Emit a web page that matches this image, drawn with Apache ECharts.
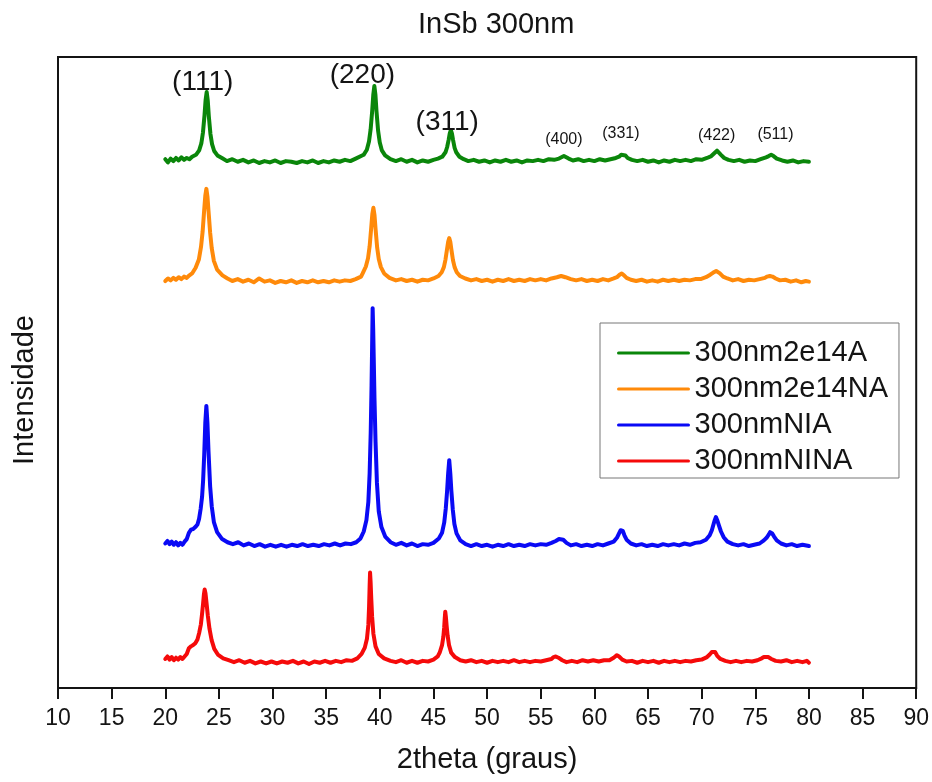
<!DOCTYPE html>
<html>
<head>
<meta charset="utf-8">
<script src="https://cdn.jsdelivr.net/npm/echarts@6/dist/echarts.min.js"></script>
<style>
html,body{margin:0;padding:0;background:#fff;}
#chart{width:932px;height:782px;}
</style>
</head>
<body>
<div id="chart"></div>
<script>
// ---- Data (2theta in degrees, intensity in arbitrary offset units) ----
const seriesNames = ['300nm2e14A', '300nm2e14NA', '300nmNIA', '300nmNINA'];
const seriesColors = ['#0a860a', '#ff8a0a', '#0a0af5', '#f50a0a'];

const s300nm2e14A = [
[20.0,83.8],[20.25,83.3],[20.5,83.9],[20.75,83.5],[21.0,84.0],[21.25,83.6],[21.5,84.1],[21.75,83.7],[22.0,84.0],[22.25,83.8],[22.5,84.2],[22.86,84.5],
[23.16,85.2],[23.36,86.3],[23.51,88.0],[23.66,90.8],[23.76,93.2],[23.86,94.45],[23.96,93.1],[24.06,90.6],[24.21,87.8],[24.36,86.2],[24.56,85.1],[24.86,84.4],[25.36,83.9],
[25.75,83.5],[26.25,83.8],[26.75,83.4],[27.25,83.7],[27.75,83.3],[28.25,83.6],[28.75,83.2],[29.25,83.5],[29.75,83.3],[30.25,83.6],[30.75,83.2],[31.25,83.5],[31.75,83.4],
[32.25,83.2],[32.75,83.5],[33.25,83.3],[33.75,83.6],[34.25,83.2],[34.75,83.5],[35.25,83.3],[35.75,83.6],[36.25,83.4],[36.75,83.7],[37.25,83.5],[37.75,83.9],
[38.49,84.5],[38.79,85.3],[38.99,86.6],[39.14,88.5],[39.29,91.5],[39.39,94.0],[39.49,95.4],[39.59,94.0],[39.69,91.4],[39.84,88.3],[39.99,86.5],[40.19,85.2],[40.49,84.4],[40.99,83.8],
[41.5,83.5],[42.0,83.8],[42.5,83.4],[43.0,83.7],[43.5,83.3],[44.0,83.6],[44.5,83.4],[45.0,83.7],
[45.42,83.9],[45.82,84.2],[46.12,84.9],[46.27,85.7],[46.42,86.9],[46.52,87.9],[46.62,88.4],[46.72,87.9],[46.82,86.9],[46.97,85.6],[47.12,84.9],[47.42,84.2],[47.82,83.8],
[48.25,83.5],[48.75,83.7],[49.25,83.4],[49.75,83.6],[50.25,83.3],[50.75,83.6],[51.25,83.4],[51.75,83.7],[52.25,83.4],[52.75,83.6],[53.25,83.3],[53.75,83.6],[54.25,83.5],[54.75,83.7],[55.25,83.5],[55.75,83.8],[56.25,83.7],
[56.7,83.9],[57.16,84.3],[57.6,83.9],[58.0,83.6],
[58.5,83.8],[59.0,83.5],[59.5,83.7],[60.0,83.5],[60.5,83.8],[61.0,83.6],[61.5,83.8],[62.0,84.0],
[62.3,84.2],[62.5,84.5],[62.68,84.7],[62.9,84.4],[63.1,84.0],[63.5,83.7],
[64.0,83.5],[64.5,83.7],[65.0,83.4],[65.5,83.6],[66.0,83.3],[66.5,83.6],[67.0,83.4],[67.5,83.7],[68.0,83.5],[68.5,83.7],[69.0,83.5],[69.5,83.8],[70.0,83.7],[70.5,84.0],
[70.9,84.3],[71.15,84.7],[71.3,85.0],[71.43,85.15],[71.6,84.9],[71.8,84.5],[72.1,84.0],[72.5,83.7],
[73.0,83.5],[73.5,83.7],[74.0,83.4],[74.5,83.6],[75.0,83.5],[75.5,83.8],[76.0,84.1],
[76.25,84.3],[76.48,84.5],[76.7,84.3],[77.0,83.9],[77.5,83.6],
[78.0,83.4],[78.5,83.6],[79.0,83.3],[79.5,83.5],[80.0,83.4]
];

const s300nm2e14NA = [
[20.0,64.5],[20.25,64.9],[20.5,64.6],[20.75,65.0],[21.0,64.7],[21.25,65.1],[21.5,64.8],[21.75,65.2],[22.0,65.0],[22.25,65.4],[22.5,65.7],[22.83,66.6],
[23.13,67.9],[23.33,69.9],[23.48,72.3],[23.63,75.8],[23.73,78.0],[23.83,79.1],[23.93,77.9],[24.03,75.6],[24.18,72.2],[24.33,69.7],[24.53,67.7],[24.83,66.3],[25.33,65.4],[25.8,64.9],
[26.25,64.5],[26.75,64.8],[27.25,64.4],[27.75,64.7],[28.25,64.3],[28.75,64.9],[29.25,64.4],[29.75,64.6],[30.25,64.2],[30.75,64.5],[31.25,64.3],[31.75,64.6],[32.25,64.2],[32.75,64.5],
[33.25,64.3],[33.75,64.6],[34.25,64.3],[34.75,64.5],[35.25,64.3],[35.75,64.6],[36.25,64.4],[36.75,64.6],[37.25,64.5],[37.75,64.8],[38.25,65.2],
[38.4,65.7],[38.7,66.8],[38.9,68.1],[39.05,70.0],[39.2,73.0],[39.3,75.1],[39.4,76.1],[39.5,75.0],[39.6,72.8],[39.75,69.8],[39.9,68.0],[40.1,66.7],[40.4,65.7],[40.9,65.0],
[41.5,64.6],[42.0,64.8],[42.5,64.5],[43.0,64.7],[43.5,64.4],[44.0,64.7],[44.5,64.6],[45.0,64.9],
[45.47,65.3],[45.77,65.9],[45.97,66.7],[46.12,67.9],[46.27,69.6],[46.37,70.7],[46.47,71.3],[46.57,70.7],[46.67,69.5],[46.82,67.8],[46.97,66.7],[47.17,65.9],[47.47,65.3],[47.97,64.9],
[48.5,64.6],[49.0,64.8],[49.5,64.5],[50.0,64.7],[50.5,64.4],[51.0,64.7],[51.5,64.5],[52.0,64.8],[52.5,64.5],[53.0,64.7],[53.5,64.5],[54.0,64.8],[54.5,64.6],[55.0,64.8],[55.5,64.6],[56.0,64.9],
[56.5,65.1],[56.9,65.3],[57.3,65.1],[57.8,64.8],
[58.3,64.6],[58.8,64.8],[59.3,64.5],[59.8,64.7],[60.3,64.5],[60.8,64.8],[61.3,64.6],[61.8,64.9],
[62.1,65.1],[62.35,65.5],[62.55,65.7],[62.75,65.4],[63.0,65.0],[63.4,64.7],
[63.9,64.5],[64.4,64.7],[64.9,64.4],[65.4,64.6],[65.9,64.4],[66.4,64.7],[66.9,64.5],[67.4,64.7],[67.9,64.5],[68.4,64.7],[68.9,64.6],[69.4,64.8],[69.9,64.8],[70.4,65.1],
[70.8,65.5],[71.05,65.8],[71.2,66.0],[71.35,66.1],[71.5,66.0],[71.7,65.7],[72.0,65.2],[72.4,64.9],
[72.9,64.6],[73.4,64.8],[73.9,64.5],[74.4,64.7],[74.9,64.6],[75.4,64.8],[75.9,65.0],
[76.1,65.2],[76.35,65.3],[76.6,65.2],[76.9,64.9],[77.3,64.6],
[77.8,64.7],[78.3,64.4],[78.8,64.6],[79.3,64.3],[79.7,64.5],[80.0,64.4]
];

const s300nmNIA = [
[20.0,22.9],[20.2,23.3],[20.4,22.8],[20.6,23.2],[20.8,22.7],[21.0,23.1],[21.2,22.6],[21.4,23.0],[21.6,22.7],[21.8,23.2],[22.0,23.6],[22.2,24.6],[22.4,25.1],[22.6,25.2],[22.8,25.5],[23.0,25.9],[23.15,26.8],
[23.3,28.4],[23.43,30.3],[23.53,33.0],[23.63,37.0],[23.73,42.0],[23.83,44.7],[23.93,42.0],[24.03,37.5],[24.18,32.0],[24.33,28.8],[24.53,26.3],[24.83,24.7],[25.3,23.6],[25.8,23.1],
[26.3,22.8],[26.8,23.1],[27.3,22.6],[27.8,22.9],[28.3,22.5],[28.8,22.8],[29.3,22.4],[29.8,22.7],[30.3,22.4],[30.8,22.7],[31.3,22.4],[31.8,22.7],[32.3,22.5],[32.8,22.8],[33.3,22.5],[33.8,22.7],
[34.3,22.5],[34.8,22.8],[35.3,22.6],[35.8,22.9],[36.3,22.6],[36.8,22.9],[37.3,22.8],[37.8,23.1],[38.2,23.7],
[38.5,24.8],[38.75,26.6],[38.93,29.5],[39.05,34.0],[39.15,40.5],[39.23,48.0],[39.28,54.0],[39.33,60.2],[39.38,57.0],[39.43,52.5],[39.5,46.0],[39.6,39.0],[39.73,32.5],[39.9,28.0],[40.15,25.5],[40.5,24.0],[41.0,23.1],
[41.5,22.7],[42.0,23.0],[42.5,22.6],[43.0,22.9],[43.5,22.5],[44.0,22.8],[44.5,22.7],[45.0,23.0],[45.5,23.7],
[45.8,24.6],[46.0,26.2],[46.15,28.5],[46.27,31.2],[46.37,34.0],[46.47,36.1],[46.57,34.0],[46.67,31.2],[46.8,28.3],[46.95,26.0],[47.15,24.5],[47.5,23.4],[48.0,22.8],
[48.5,22.5],[49.0,22.8],[49.5,22.5],[50.0,22.7],[50.5,22.4],[51.0,22.7],[51.5,22.5],[52.0,22.8],[52.5,22.5],[53.0,22.7],[53.5,22.5],[54.0,22.8],[54.5,22.6],[55.0,22.8],[55.5,22.7],[56.0,23.0],
[56.4,23.3],[56.7,23.6],[56.85,23.7],[57.1,23.5],[57.4,23.0],[57.8,22.6],
[58.3,22.8],[58.8,22.5],[59.3,22.7],[59.8,22.5],[60.3,22.8],[60.8,22.6],[61.3,22.9],[61.8,23.2],
[62.1,23.8],[62.3,24.5],[62.45,25.0],[62.53,25.2],[62.65,24.9],[62.8,24.2],[63.0,23.5],[63.4,22.9],
[63.9,22.6],[64.4,22.8],[64.9,22.5],[65.4,22.7],[65.9,22.5],[66.4,22.8],[66.9,22.6],[67.4,22.8],[67.9,22.6],[68.4,22.9],[68.9,22.7],[69.4,23.0],[69.9,23.1],[70.4,23.5],
[70.75,24.2],[70.95,25.0],[71.1,25.9],[71.22,26.6],[71.33,27.1],[71.45,26.6],[71.6,25.8],[71.8,24.8],[72.05,23.9],[72.4,23.2],
[72.9,22.8],[73.4,22.6],[73.9,22.8],[74.4,22.5],[74.9,22.7],[75.4,22.9],[75.8,23.4],
[76.05,23.8],[76.25,24.3],[76.38,24.7],[76.45,24.8],[76.58,24.5],[76.75,24.0],[77.0,23.4],[77.4,22.9],
[77.9,22.6],[78.4,22.8],[78.9,22.5],[79.4,22.7],[80.0,22.5]
];

const s300nmNINA = [
[20.0,4.6],[20.2,5.0],[20.4,4.5],[20.6,4.9],[20.8,4.4],[21.0,4.8],[21.2,4.5],[21.4,4.9],[21.6,4.6],[21.8,5.0],[22.0,5.4],[22.2,6.3],[22.4,6.6],[22.6,6.8],[22.8,7.1],[23.0,7.7],
[23.17,8.8],[23.32,10.1],[23.42,11.6],[23.52,13.3],[23.6,14.8],[23.67,15.6],[23.75,15.0],[23.85,13.4],[23.97,11.4],[24.12,9.4],[24.32,7.6],[24.57,6.2],[24.9,5.3],[25.4,4.7],[25.9,4.4],
[26.4,4.1],[26.9,4.4],[27.4,4.0],[27.9,4.3],[28.4,3.9],[28.9,4.2],[29.4,3.9],[29.9,4.2],[30.4,3.9],[30.9,4.2],[31.4,4.0],[31.9,4.3],[32.4,3.9],[32.9,4.2],[33.4,3.8],[33.9,4.2],
[34.4,4.0],[34.9,4.3],[35.4,4.0],[35.9,4.3],[36.4,4.1],[36.9,4.4],[37.4,4.3],[37.9,4.7],
[38.3,5.4],[38.6,6.4],[38.8,7.8],[38.93,10.0],[39.0,13.0],[39.05,16.2],[39.09,18.3],[39.14,16.8],[39.2,14.2],[39.28,11.3],[39.4,8.6],[39.6,6.6],[39.9,5.4],[40.4,4.7],[41.0,4.3],
[41.5,4.1],[42.0,4.4],[42.5,4.0],[43.0,4.3],[43.5,4.0],[44.0,4.3],[44.5,4.2],[45.0,4.5],[45.4,5.0],
[45.6,5.7],[45.8,6.8],[45.92,8.1],[46.0,9.6],[46.05,11.0],[46.1,12.1],[46.16,11.2],[46.23,9.8],[46.32,8.3],[46.45,6.8],[46.65,5.6],[47.0,4.9],[47.5,4.4],
[48.0,4.2],[48.5,4.4],[49.0,4.1],[49.5,4.3],[50.0,4.0],[50.5,4.3],[51.0,4.1],[51.5,4.3],[52.0,4.1],[52.5,4.4],[53.0,4.1],[53.5,4.3],[54.0,4.1],[54.5,4.3],[55.0,4.2],[55.5,4.4],[56.0,4.6],
[56.2,4.9],[56.4,5.0],[56.65,4.8],[57.0,4.4],[57.4,4.1],
[57.9,4.3],[58.4,4.1],[58.9,4.4],[59.4,4.2],[59.9,4.4],[60.4,4.2],[60.9,4.4],[61.4,4.4],[61.8,4.8],
[61.95,5.0],[62.1,5.2],[62.3,5.0],[62.6,4.5],[63.0,4.2],
[63.5,4.3],[64.0,4.0],[64.5,4.3],[65.0,4.1],[65.5,4.3],[66.0,4.0],[66.5,4.3],[67.0,4.1],[67.5,4.3],[68.0,4.1],[68.5,4.3],[69.0,4.2],[69.5,4.4],[70.0,4.5],[70.5,4.9],
[70.75,5.3],[70.95,5.7],[71.1,6.0],[71.25,5.7],[71.45,5.1],[71.75,4.6],[72.2,4.3],
[72.7,4.1],[73.2,4.3],[73.7,4.1],[74.2,4.3],[74.7,4.2],[75.2,4.4],[75.6,4.7],
[75.8,4.9],[75.98,5.0],[76.2,4.9],[76.5,4.6],[76.9,4.3],
[77.4,4.2],[77.9,4.4],[78.4,4.1],[78.9,4.3],[79.4,4.1],[79.8,4.3],[80.0,4.0]
];

// Peak (hkl) annotations: [2theta, intensity, text]
const peakLabelsLarge = [[23.49,96.0,'(111)'],[38.37,97.1,'(220)'],[46.28,89.7,'(311)']];
const peakLabelsSmall = [[57.16,86.85,'(400)'],[62.47,87.8,'(331)'],[71.4,87.5,'(422)'],[76.88,87.65,'(511)']];

const xTicks = {min: 10, max: 90, interval: 5};

// ---- Chart ----
const FONT = '"Liberation Sans", Arial, Helvetica, sans-serif';
const TXT = '#141414';
const chart = echarts.init(document.getElementById('chart'), null, {renderer: 'canvas'});
const dataSets = [s300nm2e14A, s300nm2e14NA, s300nmNIA, s300nmNINA];

const lineSeries = seriesNames.map((name, i) => ({
  name: name,
  type: 'line',
  data: dataSets[i],
  symbol: 'none',
  showSymbol: false,
  smooth: false,
  lineStyle: {color: seriesColors[i], width: 4, join: 'round', cap: 'round'},
  itemStyle: {color: seriesColors[i]},
  z: 3
}));

const labelSeries = (arr, size, name) => ({
  name: name,
  type: 'scatter',
  data: arr.map(d => ({value: [d[0], d[1]], label: {formatter: d[2]}})),
  symbolSize: 0,
  silent: true,
  itemStyle: {color: TXT, opacity: 1},
  label: {show: true, position: 'inside', color: TXT, opacity: 1, textBorderWidth: 0, fontSize: size, fontFamily: FONT},
  z: 5
});

chart.setOption({
  animation: false,
  backgroundColor: '#ffffff',
  title: {
    text: 'InSb 300nm',
    left: 413, top: 5,
    textStyle: {fontFamily: FONT, fontSize: 29, fontWeight: 'normal', color: TXT}
  },
  grid: {
    left: 58, right: 14, top: 57, bottom: 94,
    show: true, borderColor: TXT, borderWidth: 2, containLabel: false
  },
  legend: {
    data: seriesNames,
    orient: 'vertical',
    left: 600, top: 323,
    padding: [15, 11, 2, 17],
    itemGap: 6,
    itemWidth: 70,
    itemHeight: 14,
    borderColor: '#777',
    borderWidth: 1,
    backgroundColor: '#fff',
    textStyle: {fontFamily: FONT, fontSize: 29, color: TXT, lineHeight: 30, padding: [0,0,0,1]},
    itemStyle: {opacity: 0},
    lineStyle: {width: 3}
  },
  xAxis: {
    type: 'value',
    min: xTicks.min, max: xTicks.max, interval: xTicks.interval,
    name: '2theta (graus)',
    nameLocation: 'middle',
    nameGap: 57,
    nameTextStyle: {fontFamily: FONT, fontSize: 29, color: TXT},
    axisLine: {show: true, onZero: false, lineStyle: {color: TXT, width: 2}},
    axisTick: {show: true, inside: false, length: 11, lineStyle: {color: TXT, width: 2}},
    axisLabel: {margin: 19, fontFamily: FONT, fontSize: 23, color: TXT},
    splitLine: {show: false}
  },
  yAxis: {
    type: 'value',
    min: 0, max: 100,
    axisLine: {show: true, lineStyle: {color: TXT, width: 2}},
    axisTick: {show: false},
    axisLabel: {show: false},
    splitLine: {show: false}
  },
  graphic: [{
    type: 'text',
    left: 10, top: 315,
    rotation: Math.PI / 2,
    style: {text: 'Intensidade', fontFamily: FONT, fontSize: 29, fill: TXT}
  }],
  series: lineSeries.concat([
    labelSeries(peakLabelsLarge, 28, 'hklLarge'),
    labelSeries(peakLabelsSmall, 16, 'hklSmall')
  ])
});
</script>
</body>
</html>
